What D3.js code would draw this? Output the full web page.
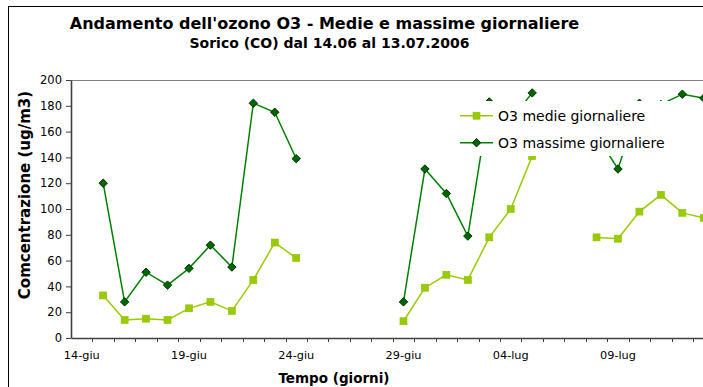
<!DOCTYPE html>
<html>
<head>
<meta charset="utf-8">
<script src="https://cdn.jsdelivr.net/npm/d3@7"></script>
<style>
  html, body { margin: 0; padding: 0; background: #fff; }
  svg { display: block; }
</style>
</head>
<body>
<svg id="chart" width="703" height="387"></svg>
<script>
// Giorni della campagna di misura (14.06 - 13.07.2006)
const giorni = [
  "14-giu","15-giu","16-giu","17-giu","18-giu","19-giu","20-giu","21-giu","22-giu","23-giu",
  "24-giu","25-giu","26-giu","27-giu","28-giu","29-giu","30-giu","01-lug","02-lug","03-lug",
  "04-lug","05-lug","06-lug","07-lug","08-lug","09-lug","10-lug","11-lug","12-lug","13-lug"
];

// O3 medie giornaliere (ug/m3), null = dato mancante
const medie = [
  null, 33, 14, 15, 14, 23, 28, 21, 45, 74,
  62, null, null, null, null, 13, 39, 49, 45, 78,
  100, 141, null, null, 78, 77, 98, 111, 97, 93
];

// O3 massime giornaliere (ug/m3), null = dato mancante
const massime = [
  null, 120, 28, 51, 41, 54, 72, 55, 182, 175,
  139, null, null, null, null, 28, 131, 112, 79, 183,
  169, 190, null, null, 157, 131, 182, 181, 189, 186
];

const yTicks = [0, 20, 40, 60, 80, 100, 120, 140, 160, 180, 200];
const xLabelEvery = 5;

const titolo = "Andamento dell'ozono O3 - Medie e massime giornaliere";
const sottotitolo = "Sorico (CO) dal 14.06 al 13.07.2006";
const titoloY = "Comcentrazione (ug/m3)";
const titoloX = "Tempo (giorni)";
const serieNomi = ["O3 medie giornaliere", "O3 massime giornaliere"];

const colMedie = "#99cc00";
const colMaxLine = "#008000";
const colMaxFill = "#006600";
const colMaxStroke = "#003300";
const fontFam = "'DejaVu Sans', Verdana, sans-serif";

const svg = d3.select("#chart");

// Cornice dell'area grafico
svg.append("rect")
  .attr("x", 8.5).attr("y", 6.5)
  .attr("width", 800).attr("height", 420)
  .attr("fill", "#fff").attr("stroke", "#000").attr("stroke-width", 1);

const plotLeft = 71, plotTop = 80, plotBottom = 338, slot = 21.45;

const x = d3.scaleBand()
  .domain(giorni)
  .range([plotLeft, plotLeft + giorni.length * slot])
  .padding(0);

const y = d3.scaleLinear().domain([0, 200]).range([plotBottom, plotTop]);

const cx = d => x(d) + x.bandwidth() / 2;

// Bordo superiore dell'area del tracciato
svg.append("line")
  .attr("x1", plotLeft).attr("x2", x.range()[1])
  .attr("y1", plotTop + 0.5).attr("y2", plotTop + 0.5)
  .attr("stroke", "#808080").attr("stroke-width", 1);

// Asse Y
const yAxis = svg.append("g")
  .attr("transform", `translate(${plotLeft},0)`)
  .call(d3.axisLeft(y).tickValues(yTicks).tickSize(5).tickSizeOuter(0).tickPadding(4));
yAxis.select(".domain").attr("stroke", "#404040").attr("stroke-width", 1.6);
yAxis.selectAll(".tick line").attr("stroke", "#404040");
yAxis.selectAll("text")
  .attr("font-family", fontFam).attr("font-size", 11.5).attr("fill", "#000");

// Asse X: etichette al centro delle categorie, tacche sui confini
const xAxis = svg.append("g")
  .attr("transform", `translate(0,${plotBottom})`)
  .call(d3.axisBottom(x)
    .tickSize(0)
    .tickPadding(13)
    .tickFormat((d, i) => i % xLabelEvery === 0 ? d : ""));
xAxis.select(".domain").attr("stroke", "#404040").attr("stroke-width", 1.6);
xAxis.selectAll("text")
  .attr("font-family", fontFam).attr("font-size", 11.3).attr("fill", "#000");

const confini = giorni.map(d => x(d)).concat([x.range()[1]]);
svg.append("g").selectAll("line")
  .data(confini.slice(1))
  .join("line")
  .attr("x1", d => Math.round(d) + 0.5).attr("x2", d => Math.round(d) + 0.5)
  .attr("y1", plotBottom).attr("y2", plotBottom + 4)
  .attr("stroke", "#404040").attr("stroke-width", 1);

// Serie
const lineGen = vals => d3.line()
  .defined((d, i) => vals[i] != null)
  .x((d, i) => cx(giorni[i]))
  .y((d, i) => y(vals[i]))(vals);

svg.append("path")
  .attr("d", lineGen(medie))
  .attr("fill", "none").attr("stroke", colMedie).attr("stroke-width", 1.5);

svg.append("path")
  .attr("d", lineGen(massime))
  .attr("fill", "none").attr("stroke", colMaxLine).attr("stroke-width", 1.5);

const sq = 7, dm = 4.2;
const diamond = (px, py) => `M${px},${py - dm}L${px + dm},${py}L${px},${py + dm}L${px - dm},${py}Z`;

svg.append("g").selectAll("rect")
  .data(giorni.map((g, i) => ({ g, v: medie[i] })).filter(d => d.v != null))
  .join("rect")
  .attr("x", d => cx(d.g) - sq / 2).attr("y", d => y(d.v) - sq / 2)
  .attr("width", sq).attr("height", sq)
  .attr("fill", colMedie).attr("stroke", "#8fbf00").attr("stroke-width", 0.6);

svg.append("g").selectAll("path")
  .data(giorni.map((g, i) => ({ g, v: massime[i] })).filter(d => d.v != null))
  .join("path")
  .attr("d", d => diamond(cx(d.g), y(d.v)))
  .attr("fill", colMaxFill).attr("stroke", colMaxStroke).attr("stroke-width", 1);

// Legenda (sfondo bianco sopra le serie)
const leg = svg.append("g");
leg.append("rect")
  .attr("x", 455).attr("y", 101).attr("width", 217).attr("height", 55)
  .attr("fill", "#fff");
const legRows = [
  { name: serieNomi[0], yy: 115.7, kind: "sq", line: colMedie },
  { name: serieNomi[1], yy: 142.7, kind: "dm", line: colMaxLine }
];
legRows.forEach(r => {
  leg.append("line")
    .attr("x1", 460).attr("x2", 493).attr("y1", r.yy).attr("y2", r.yy)
    .attr("stroke", r.line).attr("stroke-width", 1.5);
  if (r.kind === "sq") {
    leg.append("rect")
      .attr("x", 476.5 - sq / 2).attr("y", r.yy - sq / 2)
      .attr("width", sq).attr("height", sq)
      .attr("fill", colMedie).attr("stroke", "#8fbf00").attr("stroke-width", 0.6);
  } else {
    leg.append("path").attr("d", diamond(476.5, r.yy))
      .attr("fill", colMaxFill).attr("stroke", colMaxStroke).attr("stroke-width", 1);
  }
  leg.append("text")
    .attr("x", 498).attr("y", r.yy).attr("dy", "0.36em")
    .attr("font-family", fontFam).attr("font-size", 14).attr("fill", "#000")
    .text(r.name);
});

// Titoli
svg.append("text")
  .attr("x", 324.5).attr("y", 29).attr("text-anchor", "middle")
  .attr("font-family", fontFam).attr("font-weight", "bold")
  .attr("font-size", 16).text(titolo);

svg.append("text")
  .attr("x", 329.5).attr("y", 48).attr("text-anchor", "middle")
  .attr("font-family", fontFam).attr("font-weight", "bold")
  .attr("font-size", 14).text(sottotitolo);

svg.append("text")
  .attr("transform", "translate(25,195) rotate(-90)")
  .attr("text-anchor", "middle").attr("dy", "0.35em")
  .attr("font-family", fontFam).attr("font-weight", "bold")
  .attr("font-size", 15).text(titoloY);

svg.append("text")
  .attr("x", 334).attr("y", 383).attr("text-anchor", "middle")
  .attr("font-family", fontFam).attr("font-weight", "bold")
  .attr("font-size", 13.5).text(titoloX);
</script>
</body>
</html>
